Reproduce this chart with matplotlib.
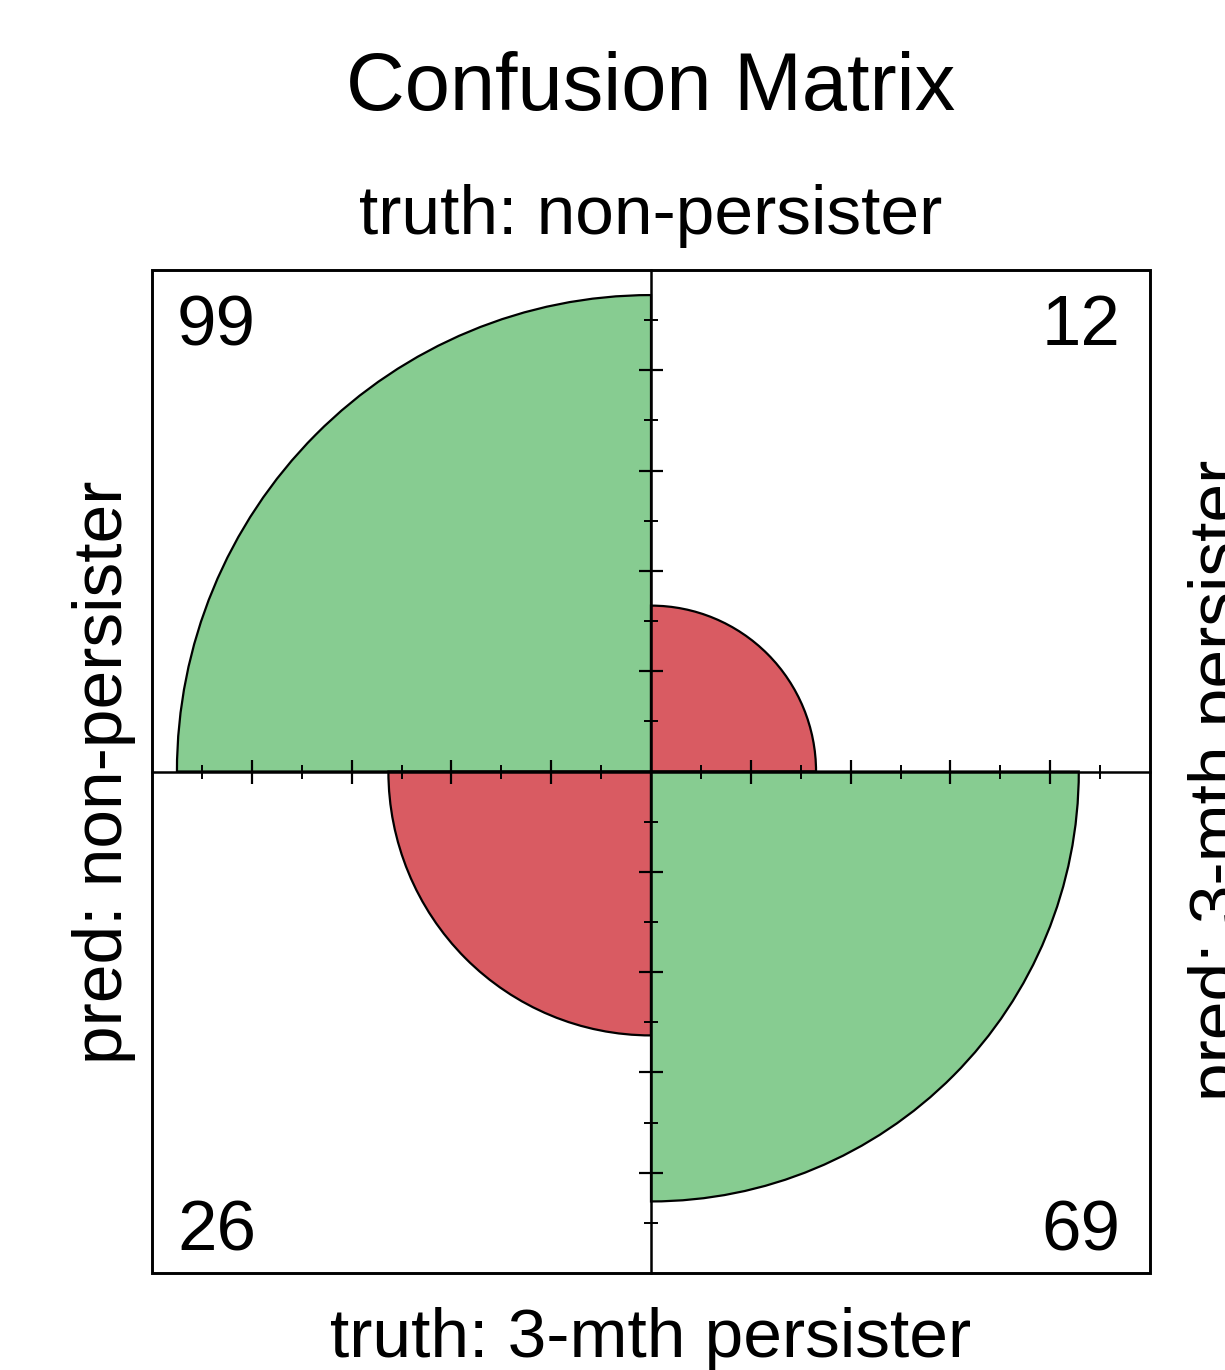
import matplotlib
matplotlib.use("Agg")
import matplotlib.pyplot as plt
from matplotlib.patches import Wedge, Rectangle
import numpy as np

plt.rcParams['font.family'] = ['Liberation Sans', 'DejaVu Sans']

# cells of the 2x2 table: top-left, top-right, bottom-left, bottom-right
counts = [99, 12, 26, 69]
cell_colors = ['#87cc91', '#d95b62', '#d95b62', '#87cc91']
title = "Confusion Matrix"
top_label = "truth: non-persister"
bottom_label = "truth: 3-mth persister"
left_label = "pred: non-persister"
right_label = "pred: 3-mth persister"

# standardise each row pair to equal totals (as fourfoldplot does)
tab = np.array(counts, dtype=float).reshape(2, 2)
tab = tab / tab.sum(axis=1, keepdims=True)
radius = 0.95 * np.sqrt(tab / tab.max()).ravel()

angles = [(90, 180), (0, 90), (180, 270), (270, 360)]

fig = plt.figure(figsize=(12.25, 13.7), dpi=100)
ax = fig.add_axes([152/1225, 97/1370, 998/1225, 1003/1370])
ax.set_xlim(-1, 1)
ax.set_ylim(-1, 1)

for r, (t1, t2), c in zip(radius, angles, cell_colors):
    ax.add_patch(Wedge((0, 0), r, t1, t2, facecolor=c, edgecolor='black', lw=1.6, zorder=1))

# axes through the centre with in/out ticks
for s in ['top', 'right']:
    ax.spines[s].set_visible(False)
ax.spines['left'].set_position('zero')
ax.spines['bottom'].set_position('zero')
for s in ['left', 'bottom']:
    ax.spines[s].set_linewidth(1.8)
major = [-0.8, -0.6, -0.4, -0.2, 0.2, 0.4, 0.6, 0.8]
minor = [-0.9, -0.7, -0.5, -0.3, -0.1, 0.1, 0.3, 0.5, 0.7, 0.9]
ax.set_xticks(major)
ax.set_yticks(major)
ax.set_xticks(minor, minor=True)
ax.set_yticks(minor, minor=True)
ax.tick_params(which='major', direction='inout', length=17, width=1.6,
               labelbottom=False, labelleft=False)
ax.tick_params(which='minor', direction='inout', length=10, width=1.4)
ax.add_patch(Rectangle((0, 0), 1, 1, transform=ax.transAxes, fill=False,
                       edgecolor='black', lw=2.1, zorder=3, clip_on=False))

num_fs = 51
ax.text(-0.950, 0.850, str(counts[0]), fontsize=num_fs, ha='left', va='baseline')
ax.text(0.94, 0.850, str(counts[1]), fontsize=num_fs, ha='right', va='baseline')
ax.text(-0.950, -0.955, str(counts[2]), fontsize=num_fs, ha='left', va='baseline')
ax.text(0.94, -0.955, str(counts[3]), fontsize=num_fs, ha='right', va='baseline')

fig.text(651/1225, 1 - 110/1370, title, fontsize=58.5, ha='center', va='baseline')
fig.text(651/1225, 1 - 234/1370, top_label, fontsize=50, ha='center', va='baseline')
fig.text(651/1225, 1 - 1357/1370, bottom_label, fontsize=50, ha='center', va='baseline')
fig.text(104/1225, 1 - 772/1370, left_label, fontsize=50, rotation=90, ha='center', va='center')
fig.text(1220/1225, 1 - 780/1370, right_label, fontsize=50, rotation=90, ha='center', va='center')

fig.savefig('out.png', dpi=100, facecolor='white')
